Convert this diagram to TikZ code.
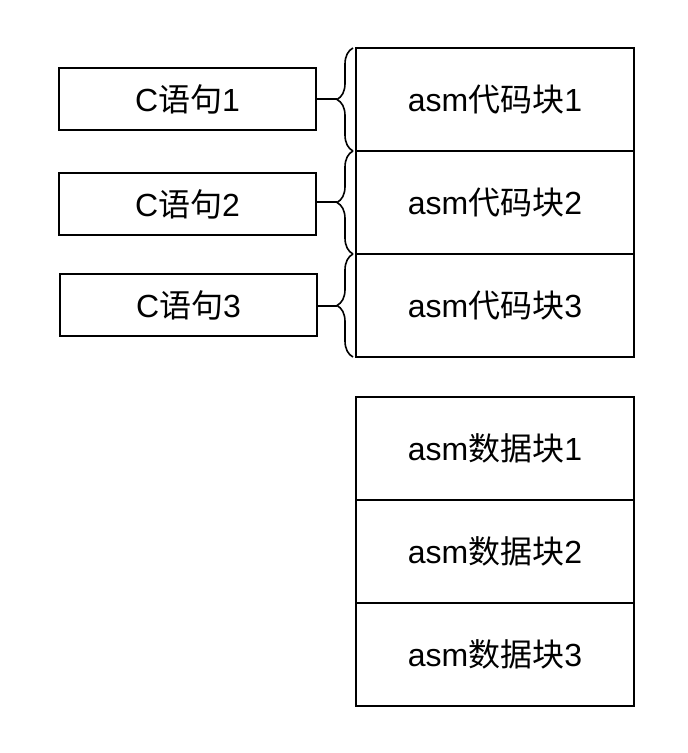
\documentclass[tikz,border=0pt]{standalone}
\usepackage{fontspec}
\setmainfont{Liberation Sans}
\newfontfamily\cjk{Noto Sans CJK SC}
\usetikzlibrary{positioning,decorations.pathreplacing}

\begin{document}
\begin{tikzpicture}[x=0.5pt,y=0.5pt,
    every node/.style={font=\fontsize{16}{19}\selectfont},
    cbox/.style={draw,line width=1pt,minimum width=128.5pt,minimum height=31pt,inner sep=0pt,outer sep=0pt},
    asmbox/.style={draw,line width=1pt,minimum width=139pt,minimum height=51.5pt,inner sep=0pt,outer sep=0pt},
    tobrace/.style={decorate,decoration={brace,amplitude=8pt},line width=0.8pt}]
  \useasboundingbox (0,0) rectangle (688,-753);

  % C statements
  \node [cbox] (c1) at (187.5,-99.5) {C{\cjk 语句}1};
  \node [cbox] (c2) at (187.5,-204)  {C{\cjk 语句}2};
  \node [cbox] (c3) at (188.5,-305)  {C{\cjk 语句}3};

  % asm code blocks
  \node [asmbox] (code1) at (495,-99.5)     {asm{\cjk 代码块}1};
  \node [asmbox] (code2) [below=0pt of code1] {asm{\cjk 代码块}2};
  \node [asmbox] (code3) [below=0pt of code2] {asm{\cjk 代码块}3};

  % asm data blocks
  \node [asmbox] (data1) at (495,-448.5)    {asm{\cjk 数据块}1};
  \node [asmbox] (data2) [below=0pt of data1] {asm{\cjk 数据块}2};
  \node [asmbox] (data3) [below=0pt of data2] {asm{\cjk 数据块}3};

  \foreach \i in {1,2,3} {
    \draw [tobrace] ([xshift=-1.5pt]code\i.south west) -- ([xshift=-1.5pt]code\i.north west);
    \coordinate (tip\i) at ([xshift=-9.5pt]code\i.west);
    \draw [line width=1pt] (tip\i) -- (tip\i -| c\i.east);
  }
\end{tikzpicture}
\end{document}
